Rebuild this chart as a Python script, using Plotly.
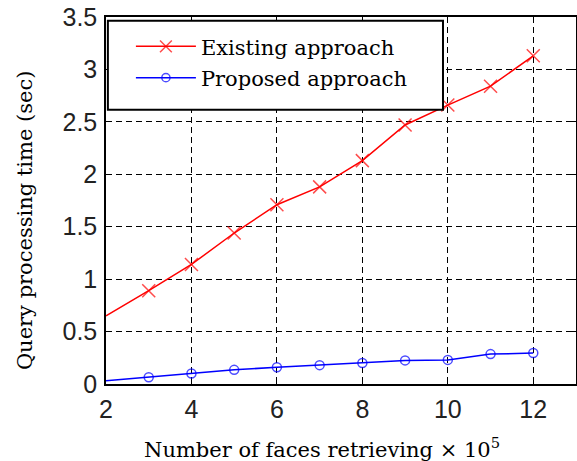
import plotly.graph_objects as go

faces = [2, 3, 4, 5, 6, 7, 8, 9, 10, 11, 12]
existing = [0.65, 0.89, 1.14, 1.44, 1.71, 1.88, 2.13, 2.47, 2.66, 2.84, 3.13]
proposed = [0.03, 0.065, 0.10, 0.135, 0.16, 0.18, 0.20, 0.225, 0.23, 0.285, 0.295]
names = ["Existing approach", "Proposed approach"]
x_ticks = [2, 4, 6, 8, 10, 12]
y_ticks = [0, 0.5, 1, 1.5, 2, 2.5, 3, 3.5]
x_title = "Number of faces retrieving \u00d7 10<sup>5</sup>"
y_title = "Query processing time (sec)"

serif = "DejaVu Serif"
sans = "Liberation Sans"

fig = go.Figure()
fig.add_trace(go.Scatter(
    x=faces, y=existing, name=names[0], mode="lines+markers",
    line=dict(color="#ff0000", width=1.5),
    marker=dict(symbol="x-thin-open", size=[0] + [13] * (len(faces) - 1),
                line=dict(color="#ff0000", width=1.5)),
    legendgroup="a",
))
fig.add_trace(go.Scatter(
    x=faces, y=proposed, name=names[1], mode="lines+markers",
    line=dict(color="#0000ff", width=1.5),
    marker=dict(symbol="circle-open", size=[0] + [9] * (len(faces) - 1),
                line=dict(color="#0000ff", width=1.5)),
    legendgroup="b",
))

axis_common = dict(
    showline=True, linecolor="black", linewidth=1.5, mirror="allticks",
    ticks="inside", ticklen=5, tickcolor="black", tickwidth=1,
    showgrid=True, gridcolor="black", gridwidth=1, griddash="6px,4px",
    zeroline=False, tickfont=dict(family=sans, size=25, color="#222"),
    ticklabeloverflow="allow",
)

fig.update_xaxes(range=[2, 13], tickvals=x_ticks, ticklabelstandoff=2, **axis_common)
fig.update_yaxes(range=[0, 3.5], tickvals=y_ticks, ticklabelstandoff=2, **axis_common)

fig.add_annotation(text=x_title, xref="paper", yref="paper", x=0.46, y=-0.174,
                   xanchor="center", yanchor="middle", showarrow=False,
                   font=dict(family=serif, size=21, color="black"))
fig.add_annotation(text=y_title, xref="paper", yref="paper", x=-0.172, y=0.447,
                   xanchor="center", yanchor="middle", showarrow=False, textangle=-90,
                   font=dict(family=serif, size=21, color="black"))

fig.add_shape(type="rect", xref="paper", yref="paper",
              x0=0.004, x1=0.717, y0=0.747, y1=0.99,
              line=dict(color="black", width=2), fillcolor="white", layer="above")

fig.update_layout(
    width=577, height=461,
    margin=dict(l=106, r=1, t=17, b=77, autoexpand=False),
    plot_bgcolor="white", paper_bgcolor="white",
    legend=dict(x=0.053, y=0.975, xanchor="left", yanchor="top",
                bgcolor="rgba(0,0,0,0)", borderwidth=0,
                font=dict(family=serif, size=21, color="black"),
                tracegroupgap=1, itemwidth=60),
    showlegend=True,
)

fig.write_html("out.html", config={"displayModeBar": False},
               post_script="document.body.style.margin='0';")
